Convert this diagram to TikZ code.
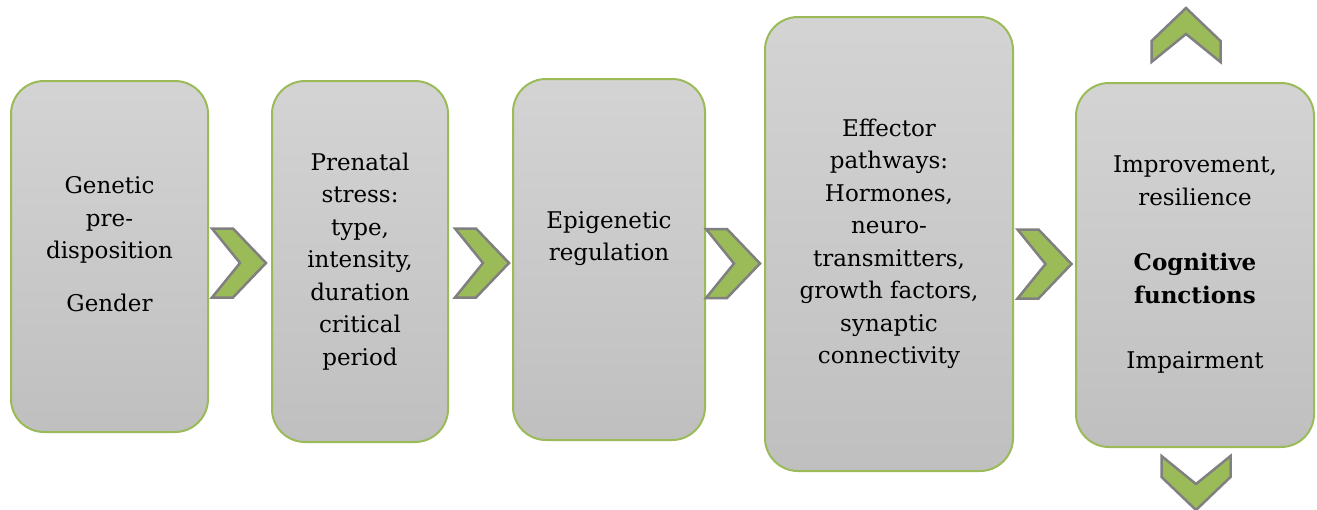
\documentclass[tikz,border=0pt]{standalone}
\usepackage{fontspec}
\setmainfont{DejaVu Serif}
\definecolor{leafgreen}{RGB}{155,187,89}
\definecolor{chevgray}{RGB}{128,128,128}
\tikzset{
  box/.style={draw=leafgreen, line width=2pt, rounded corners=33pt,
    top color=black!17, bottom color=black!25, inner sep=0pt},
  txt/.style={align=center, font=\fontsize{23}{32.5}\selectfont},
  chev/.pic={\draw[fill=leafgreen, draw=chevgray, line width=2.5pt]
    (-27,34.5) -- (-6,34.5) -- (27,0) -- (-6,-34.5) -- (-27,-34.5) -- (1,0) -- cycle;}
}

\begin{document}
\begin{tikzpicture}[x=1pt, y=-1pt]
                \useasboundingbox (0,0) rectangle (1317,509);
                % boxes
                \node[box, minimum width=197pt, minimum height=351pt] (gen) at (109.5,256.5) {};
                \node[box, minimum width=176pt, minimum height=361pt] (stress) at (360,261.5) {};
                \node[box, minimum width=192pt, minimum height=361pt] (epi) at (609,259.5) {};
                \node[box, minimum width=248pt, minimum height=454pt] (eff) at (889,244) {};
                \node[box, minimum width=238pt, minimum height=364pt] (cog) at (1195,265) {};
                % texts
                \node[txt] (gentxt) at ([yshift=12.5pt]gen.center) {Genetic\\pre-\\disposition\\[20pt]Gender};
                \node[txt] (stresstxt) at (stress.center) {Prenatal\\stress:\\type,\\intensity,\\duration\\critical\\period};
                \node[txt] (epitxt) at ([yshift=21pt]epi.center) {Epigenetic\\regulation};
                \node[txt] (efftxt) at (eff.center) {Effector\\pathways:\\Hormones,\\neuro-\\transmitters,\\growth factors,\\synaptic\\connectivity};
                \node[txt] (cogtxt) at (cog.center) {Improvement,\\resilience\\[33pt]\textbf{Cognitive}\\\textbf{functions}\\[33pt]Impairment};
                % chevrons
                \pic at (239,263) {chev};
                \pic at (482,263) {chev};
                \pic at (733,263.5) {chev};
                \pic at (1044.5,264) {chev};
                \pic[rotate=90] at (1186,35) {chev};
                \pic[rotate=-90] at (1196,483) {chev};
            \end{tikzpicture}
\end{document}
